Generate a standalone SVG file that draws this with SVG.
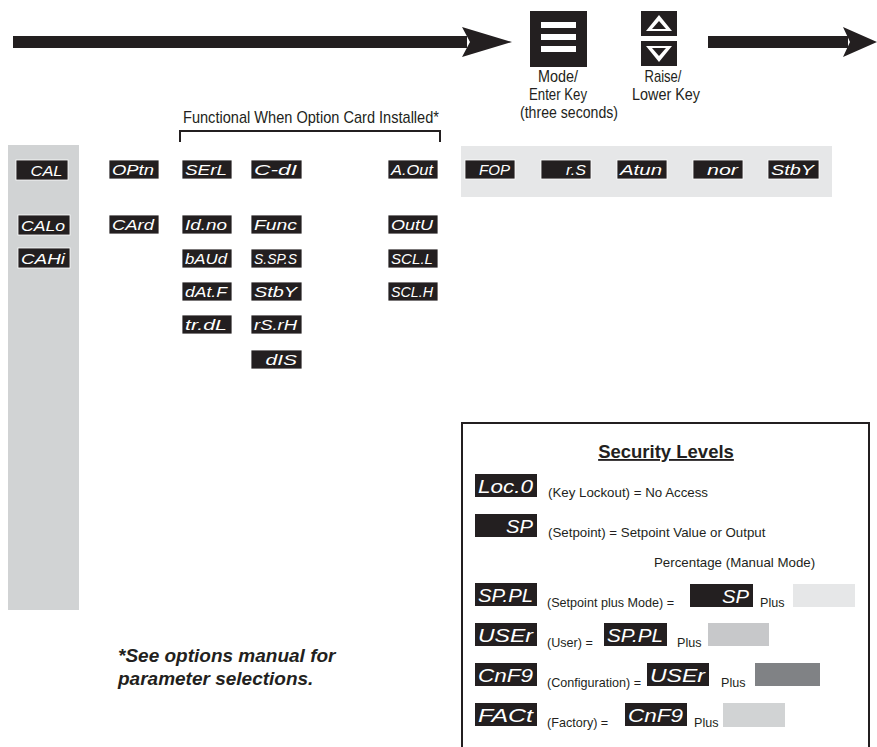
<svg xmlns="http://www.w3.org/2000/svg" width="877" height="747" viewBox="0 0 877 747">
<style>
.k{fill:#231f20}
.lb rect{fill:#231f20;stroke:#ffffff;stroke-width:0.8}
.lb text{fill:#ffffff;font-family:"Liberation Sans",Arial,sans-serif;font-style:italic;font-size:15px}
.sb rect{fill:#231f20}
.sb text{fill:#ffffff;font-family:"Liberation Sans",Arial,sans-serif;font-style:italic;font-size:19px}
.cap{font-family:"Liberation Sans",Arial,sans-serif;font-size:17px;fill:#231f20;text-anchor:middle}
.sec{font-family:"Liberation Sans",Arial,sans-serif;font-size:13.3px;fill:#231f20}
.sm{font-family:"Liberation Sans",Arial,sans-serif;font-size:12.6px;fill:#231f20}
</style>
<rect width="877" height="747" fill="#ffffff"/>
<!-- background panels -->
<rect x="8" y="145" width="71" height="465" fill="#d1d3d4"/>
<rect x="461" y="146" width="371" height="51" fill="#e6e7e8"/>

<g id="connectors">
  <rect x="13" y="36" width="454" height="12" class="k"/>
  <polygon points="462,27 512,42 462,57 470,42" class="k"/>
  <rect x="708" y="36" width="140" height="12" class="k"/>
  <polygon points="843,27 877,42 843,57 850,42" class="k"/>
  <path d="M180,142 V131 H440 V142" fill="none" stroke="#231f20" stroke-width="2"/>
</g>

<g id="mode-key">
  <rect x="530" y="11" width="57" height="56" class="k"/>
  <rect x="541" y="22" width="35" height="6" fill="#fff"/>
  <rect x="541" y="34" width="35" height="6" fill="#fff"/>
  <rect x="541" y="46" width="35" height="6" fill="#fff"/>
  <text x="558" y="82" class="cap" textLength="40" lengthAdjust="spacingAndGlyphs">Mode/</text>
  <text x="558" y="100" class="cap" textLength="58" lengthAdjust="spacingAndGlyphs">Enter Key</text>
  <text x="569" y="118" class="cap" textLength="98" lengthAdjust="spacingAndGlyphs">(three seconds)</text>
</g>
<g id="raise-lower-key">
  <rect x="641" y="11" width="36" height="25" class="k"/>
  <polygon points="659,15 672,31 646,31" fill="#fff"/>
  <polygon points="659,21 666,29 652,29" class="k"/>
  <rect x="641" y="41" width="36" height="25" class="k"/>
  <polygon points="659,62 672,46 646,46" fill="#fff"/>
  <polygon points="659,56 666,48 652,48" class="k"/>
  <text x="663" y="82" class="cap" textLength="37" lengthAdjust="spacingAndGlyphs">Raise/</text>
  <text x="666" y="100" class="cap" textLength="68" lengthAdjust="spacingAndGlyphs">Lower Key</text>
</g>

<text x="311" y="123" class="cap" textLength="256" lengthAdjust="spacingAndGlyphs">Functional When Option Card Installed*</text>

<!-- column 1 -->
<g id="n-CAL" class="lb"><rect x="16" y="160" width="52" height="20"/><text x="30.5" y="176" textLength="32" lengthAdjust="spacingAndGlyphs">CAL</text></g>
<g id="n-CALo" class="lb"><rect x="18" y="215" width="52" height="20"/><text x="21" y="231" textLength="44" lengthAdjust="spacingAndGlyphs">CALo</text></g>
<g id="n-CAHi" class="lb"><rect x="18" y="248" width="52" height="20"/><text x="21" y="264" textLength="44" lengthAdjust="spacingAndGlyphs">CAHi</text></g>
<!-- column 2 -->
<g id="n-OPtn" class="lb"><rect x="109" y="160" width="50" height="19"/><text x="112" y="175" textLength="42" lengthAdjust="spacingAndGlyphs">OPtn</text></g>
<g id="n-CArd" class="lb"><rect x="109" y="215" width="50" height="19"/><text x="112" y="230" textLength="42" lengthAdjust="spacingAndGlyphs">CArd</text></g>
<!-- column 3 -->
<g id="n-SErL" class="lb"><rect x="182" y="160" width="50" height="19"/><text x="185" y="175" textLength="42" lengthAdjust="spacingAndGlyphs">SErL</text></g>
<g id="n-Idno" class="lb"><rect x="182" y="215" width="50" height="19"/><text x="185" y="230" textLength="42" lengthAdjust="spacingAndGlyphs">Id.no</text></g>
<g id="n-bAUd" class="lb"><rect x="182" y="249" width="50" height="19"/><text x="185" y="264" textLength="42" lengthAdjust="spacingAndGlyphs">bAUd</text></g>
<g id="n-dAtF" class="lb"><rect x="182" y="282" width="50" height="19"/><text x="185" y="297" textLength="42" lengthAdjust="spacingAndGlyphs">dAt.F</text></g>
<g id="n-trdL" class="lb"><rect x="182" y="315" width="50" height="19"/><text x="185" y="330" textLength="42" lengthAdjust="spacingAndGlyphs">tr.dL</text></g>
<!-- column 4 -->
<g id="n-CdI" class="lb"><rect x="251" y="160" width="51" height="19"/><text x="254" y="175" textLength="43" lengthAdjust="spacingAndGlyphs">C-dI</text></g>
<g id="n-Func" class="lb"><rect x="251" y="215" width="51" height="19"/><text x="254" y="230" textLength="43" lengthAdjust="spacingAndGlyphs">Func</text></g>
<g id="n-SSPS" class="lb"><rect x="251" y="249" width="51" height="19"/><text x="254" y="264" textLength="43" lengthAdjust="spacingAndGlyphs">S.SP.S</text></g>
<g id="n-StbY1" class="lb"><rect x="251" y="282" width="51" height="19"/><text x="254" y="297" textLength="43" lengthAdjust="spacingAndGlyphs">StbY</text></g>
<g id="n-rSrH" class="lb"><rect x="251" y="315" width="51" height="19"/><text x="254" y="330" textLength="43" lengthAdjust="spacingAndGlyphs">rS.rH</text></g>
<g id="n-dIS" class="lb"><rect x="251" y="350" width="51" height="19"/><text x="265.5" y="365" textLength="31.5" lengthAdjust="spacingAndGlyphs">dIS</text></g>
<!-- column 5 -->
<g id="n-AOut" class="lb"><rect x="388" y="160" width="50" height="19"/><text x="391" y="175" textLength="42" lengthAdjust="spacingAndGlyphs">A.Out</text></g>
<g id="n-OutU" class="lb"><rect x="388" y="215" width="50" height="19"/><text x="391" y="230" textLength="42" lengthAdjust="spacingAndGlyphs">OutU</text></g>
<g id="n-SCLL" class="lb"><rect x="388" y="249" width="50" height="19"/><text x="391" y="264" textLength="42" lengthAdjust="spacingAndGlyphs">SCL.L</text></g>
<g id="n-SCLH" class="lb"><rect x="388" y="282" width="50" height="19"/><text x="391" y="297" textLength="42" lengthAdjust="spacingAndGlyphs">SCL.H</text></g>
<!-- top band -->
<g id="n-FOP" class="lb"><rect x="465" y="160" width="50" height="19"/><text x="479" y="175" textLength="31" lengthAdjust="spacingAndGlyphs">FOP</text></g>
<g id="n-rS" class="lb"><rect x="541" y="160" width="50" height="19"/><text x="566" y="175" textLength="20" lengthAdjust="spacingAndGlyphs">r.S</text></g>
<g id="n-Atun" class="lb"><rect x="617" y="160" width="50" height="19"/><text x="620" y="175" textLength="42" lengthAdjust="spacingAndGlyphs">Atun</text></g>
<g id="n-nor" class="lb"><rect x="693" y="160" width="50" height="19"/><text x="707" y="175" textLength="31" lengthAdjust="spacingAndGlyphs">nor</text></g>
<g id="n-StbY2" class="lb"><rect x="768" y="160" width="51" height="19"/><text x="771" y="175" textLength="43" lengthAdjust="spacingAndGlyphs">StbY</text></g>

<!-- security levels -->
<g id="security-levels">
  <rect x="462" y="423" width="407" height="340" fill="none" stroke="#231f20" stroke-width="2"/>
  <text x="666" y="458" font-family="'Liberation Sans',Arial,sans-serif" font-size="18.5" font-weight="bold" fill="#231f20" text-anchor="middle" text-decoration="underline">Security Levels</text>

  <g class="sb"><rect x="475" y="474" width="62" height="23"/><text x="478" y="493" textLength="55" lengthAdjust="spacingAndGlyphs">Loc.0</text></g>
  <text x="548" y="497" class="sec">(Key Lockout) = No Access</text>

  <g class="sb"><rect x="475" y="514" width="62" height="23"/><text x="506" y="533" textLength="27" lengthAdjust="spacingAndGlyphs">SP</text></g>
  <text x="548" y="537" class="sec">(Setpoint) = Setpoint Value or Output</text>
  <text x="654" y="567" class="sec">Percentage (Manual Mode)</text>

  <g class="sb"><rect x="475" y="583" width="62" height="23"/><text x="478" y="602" textLength="55" lengthAdjust="spacingAndGlyphs">SP.PL</text></g>
  <text x="547" y="607" class="sm">(Setpoint plus Mode) =</text>
  <g class="sb"><rect x="690" y="584" width="63" height="23"/><text x="722" y="603" textLength="27" lengthAdjust="spacingAndGlyphs">SP</text></g>
  <text x="760" y="607" class="sm">Plus</text>
  <rect x="793" y="584" width="62" height="23" fill="#e6e7e8"/>

  <g class="sb"><rect x="475" y="623" width="62" height="23"/><text x="478" y="642" textLength="55" lengthAdjust="spacingAndGlyphs">USEr</text></g>
  <text x="547" y="647" class="sm">(User) =</text>
  <g class="sb"><rect x="604" y="623" width="63" height="23"/><text x="607" y="642" textLength="56" lengthAdjust="spacingAndGlyphs">SP.PL</text></g>
  <text x="677" y="647" class="sm">Plus</text>
  <rect x="708" y="623" width="61" height="23" fill="#c7c8ca"/>

  <g class="sb"><rect x="475" y="663" width="62" height="23"/><text x="478" y="682" textLength="55" lengthAdjust="spacingAndGlyphs">CnF9</text></g>
  <text x="547" y="687" class="sm">(Configuration) =</text>
  <g class="sb"><rect x="647" y="663" width="62" height="23"/><text x="650" y="682" textLength="55" lengthAdjust="spacingAndGlyphs">USEr</text></g>
  <text x="721" y="687" class="sm">Plus</text>
  <rect x="755" y="663" width="65" height="23" fill="#808285"/>

  <g class="sb"><rect x="475" y="703" width="62" height="23"/><text x="478" y="722" textLength="55" lengthAdjust="spacingAndGlyphs">FACt</text></g>
  <text x="547" y="727" class="sm">(Factory) =</text>
  <g class="sb"><rect x="625" y="703" width="62" height="23"/><text x="628" y="722" textLength="55" lengthAdjust="spacingAndGlyphs">CnF9</text></g>
  <text x="694" y="727" class="sm">Plus</text>
  <rect x="723" y="703" width="62" height="24" fill="#d1d3d4"/>
</g>

<g id="footnote" font-family="'Liberation Sans',Arial,sans-serif" font-size="19" font-weight="bold" font-style="italic" fill="#231f20">
  <text x="118" y="662">*See options manual for</text>
  <text x="118" y="685">parameter selections.</text>
</g>
</svg>
